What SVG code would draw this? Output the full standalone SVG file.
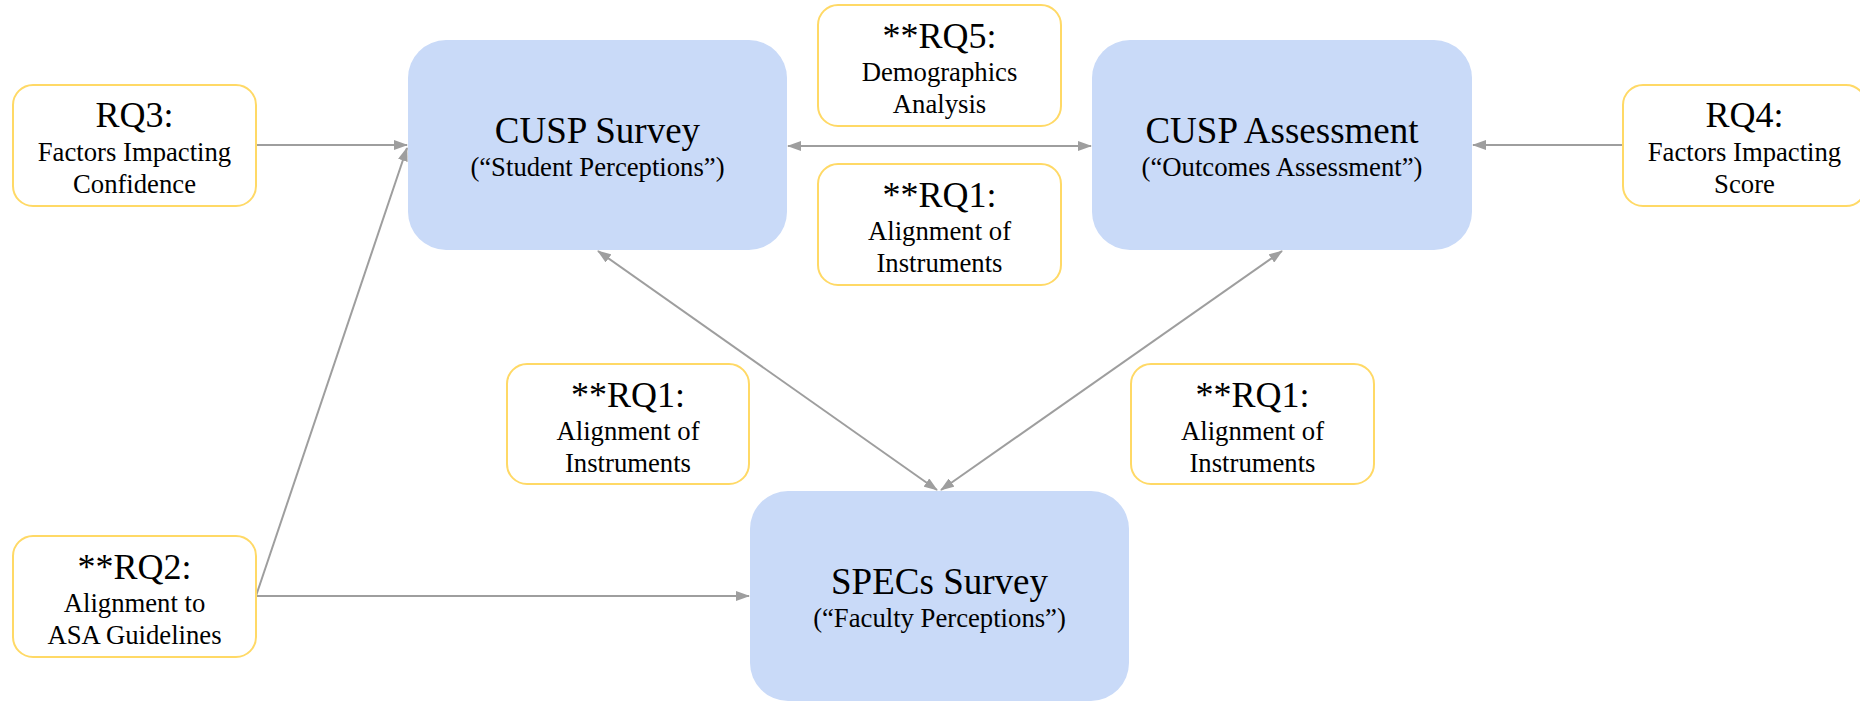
<svg xmlns="http://www.w3.org/2000/svg" width="1860" height="701" viewBox="0 0 1860 701">
<style>
.blue{fill:#c9daf8;stroke:none}
.yel{fill:#ffffff;stroke:#ffd966;stroke-width:2}
.t1{font-size:37px}
.h{font-size:36px}
.s{font-size:26.7px}
.c{stroke:#9e9e9e;stroke-width:2;fill:none}
</style>
<defs>
<marker id="ah" markerUnits="userSpaceOnUse" viewBox="0 0 14 10" refX="13" refY="5" markerWidth="14" markerHeight="10" orient="auto-start-reverse">
<path d="M0,0 L14,5 L0,10 Z" fill="#9e9e9e"/>
</marker>
</defs>
<rect width="1860" height="701" fill="#ffffff"/>
<g id="connectors">
<line class="c" x1="256" y1="145" x2="407" y2="145" marker-end="url(#ah)"/>
<polyline class="c" points="256,596 407,148" marker-end="url(#ah)"/>
<line class="c" x1="256" y1="596" x2="749" y2="596" marker-end="url(#ah)"/>
<line class="c" x1="788" y1="146" x2="1091" y2="146" marker-start="url(#ah)" marker-end="url(#ah)"/>
<line class="c" x1="1623" y1="145" x2="1473" y2="145" marker-end="url(#ah)"/>
<line class="c" x1="598" y1="251" x2="937" y2="490" marker-start="url(#ah)" marker-end="url(#ah)"/>
<line class="c" x1="1282" y1="251" x2="941" y2="490" marker-start="url(#ah)" marker-end="url(#ah)"/>
</g>
<g font-family="Liberation Serif, Times New Roman, Tinos, DejaVu Serif, serif" text-anchor="middle" fill="#000000">
<g id="cusp-survey">
<rect class="blue" x="408" y="40" width="379" height="210" rx="38"/>
<text class="t1" x="597.5" y="143">CUSP Survey</text>
<text class="s" x="597.5" y="176">(“Student Perceptions”)</text>
</g>
<g id="cusp-assessment">
<rect class="blue" x="1092" y="40" width="380" height="210" rx="38"/>
<text class="t1" x="1282" y="143">CUSP Assessment</text>
<text class="s" x="1282" y="176">(“Outcomes Assessment”)</text>
</g>
<g id="specs-survey">
<rect class="blue" x="750" y="491" width="379" height="210" rx="38"/>
<text class="t1" x="939.5" y="594">SPECs Survey</text>
<text class="s" x="939.5" y="627">(“Faculty Perceptions”)</text>
</g>
<g id="rq3">
<rect class="yel" x="13" y="85" width="243" height="121" rx="20"/>
<text class="h" x="134.5" y="127">RQ3:</text>
<text class="s" x="134.5" y="161">Factors Impacting</text>
<text class="s" x="134.5" y="193">Confidence</text>
</g>
<g id="rq2">
<rect class="yel" x="13" y="536" width="243" height="121" rx="20"/>
<text class="h" x="134.5" y="579">**RQ2:</text>
<text class="s" x="134.5" y="612">Alignment to</text>
<text class="s" x="134.5" y="644">ASA Guidelines</text>
</g>
<g id="rq5">
<rect class="yel" x="818" y="5" width="243" height="121" rx="20"/>
<text class="h" x="939.5" y="48">**RQ5:</text>
<text class="s" x="939.5" y="81">Demographics</text>
<text class="s" x="939.5" y="113">Analysis</text>
</g>
<g id="rq1-top">
<rect class="yel" x="818" y="164" width="243" height="121" rx="20"/>
<text class="h" x="939.5" y="207">**RQ1:</text>
<text class="s" x="939.5" y="240">Alignment of</text>
<text class="s" x="939.5" y="272">Instruments</text>
</g>
<g id="rq1-left">
<rect class="yel" x="507" y="364" width="242" height="120" rx="20"/>
<text class="h" x="628" y="407">**RQ1:</text>
<text class="s" x="628" y="440">Alignment of</text>
<text class="s" x="628" y="472">Instruments</text>
</g>
<g id="rq1-right">
<rect class="yel" x="1131" y="364" width="243" height="120" rx="20"/>
<text class="h" x="1252.5" y="407">**RQ1:</text>
<text class="s" x="1252.5" y="440">Alignment of</text>
<text class="s" x="1252.5" y="472">Instruments</text>
</g>
<g id="rq4">
<rect class="yel" x="1623" y="85" width="243" height="121" rx="20"/>
<text class="h" x="1744.5" y="127">RQ4:</text>
<text class="s" x="1744.5" y="161">Factors Impacting</text>
<text class="s" x="1744.5" y="193">Score</text>
</g>
</g>
</svg>
